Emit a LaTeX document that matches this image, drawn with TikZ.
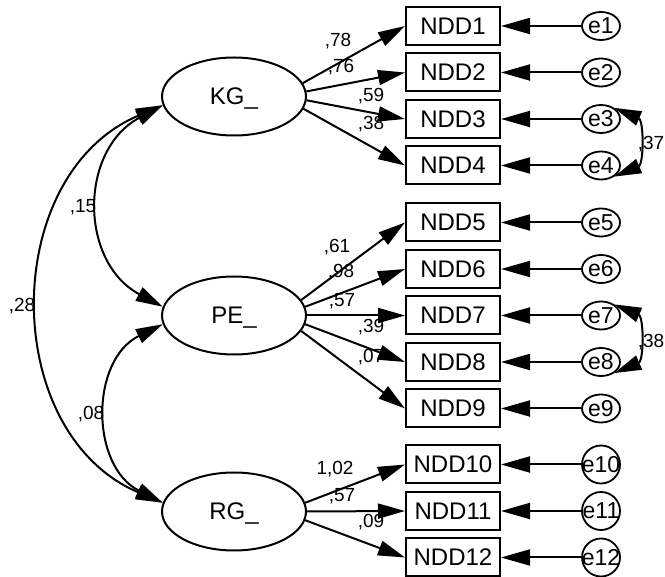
\documentclass[tikz,border=0pt]{standalone}
\usepackage{fontspec}
\setmainfont{Liberation Sans}
\usetikzlibrary{arrows.meta,shapes.geometric}
\newcommand\ezero[1]{\makebox[0pt]{#1}}
\begin{document}
\begin{tikzpicture}[x=1pt,y=-1pt,
  lat/.style={draw, ellipse, minimum width=144pt, minimum height=78pt, inner sep=0pt, text depth=0pt, line width=2pt, font=\fontsize{24}{24}\selectfont},
  obs/.style={draw, rectangle, minimum width=94pt, minimum height=38pt, inner sep=0pt, line width=2pt, font=\fontsize{24}{24}\selectfont},
  err/.style={draw, ellipse, minimum width=38pt, minimum height=28pt, inner sep=0pt, line width=1.8pt, font=\fontsize{23}{23}\selectfont},
  errb/.style={err, minimum height=38pt},
  ld/.style={line width=2pt, -{Triangle[length=27pt,width=15pt]}},
  ldx/.style={line width=2pt, -{Triangle[length=29pt,width=16pt]}},
  cv/.style={line width=2pt, {Triangle[length=27pt,width=15pt]}-{Triangle[length=27pt,width=15pt]}},
  lbl/.style={anchor=base, inner sep=0pt, font=\fontsize{19}{19}\selectfont},
]
\useasboundingbox (0,0) rectangle (665,577);

% latent variables
\node[lat] (KG) at (234,96.5) {KG\_};
\node[lat] (PE) at (234,315.5) {PE\_};
\node[lat] (RG) at (234,511.5) {RG\_};

% observed variables
\node[obs] (N1) at (453,26) {NDD1};
\node[obs] (N2) at (453,72.5) {NDD2};
\node[obs] (N3) at (453,119) {NDD3};
\node[obs] (N4) at (453,165.5) {NDD4};
\node[obs] (N5) at (453,222.5) {NDD5};
\node[obs] (N6) at (453,269) {NDD6};
\node[obs] (N7) at (453,315.5) {NDD7};
\node[obs] (N8) at (453,362) {NDD8};
\node[obs] (N9) at (453,408.5) {NDD9};
\node[obs] (N10) at (453,464.5) {NDD10};
\node[obs] (N11) at (453,511) {NDD11};
\node[obs] (N12) at (453,557.5) {NDD12};

% errors
\node[err] (e1) at (601,26) {\ezero{e1}};
\node[err] (e2) at (601,72.5) {\ezero{e2}};
\node[err] (e3) at (601,119) {\ezero{e3}};
\node[err] (e4) at (601,165.5) {\ezero{e4}};
\node[err] (e5) at (601,222.5) {\ezero{e5}};
\node[err] (e6) at (601,269) {\ezero{e6}};
\node[err] (e7) at (601,315.5) {\ezero{e7}};
\node[err] (e8) at (601,362) {\ezero{e8}};
\node[err] (e9) at (601,408.5) {\ezero{e9}};
\node[errb] (e10) at (601,464.5) {\ezero{e10}};
\node[errb] (e11) at (601,511) {\ezero{e11}};
\node[errb] (e12) at (601,557.5) {\ezero{e12}};

% labels
\node[lbl] (l1) at (338,47) {,78};
\node[lbl] (l2) at (341,73) {,76};
\node[lbl] (l3) at (371,102) {,59};
\node[lbl] (l4) at (371,130) {,38};
\node[lbl] (l5) at (337,253) {,61};
\node[lbl] (l6) at (341,278) {,98};
\node[lbl] (l7) at (342,307) {,57};
\node[lbl] (l8) at (371,333) {,39};
\node[lbl] (l9) at (371,363) {,07};
\node[lbl] (l10) at (335,475) {1,02};
\node[lbl] (l11) at (342,502) {,57};
\node[lbl] (l12) at (371,528) {,09};
\node[lbl] (c1) at (83,213) {,15};
\node[lbl] (c2) at (22,312) {,28};
\node[lbl] (c3) at (91,420) {,08};
\node[lbl] (c4) at (651,150) {,37};
\node[lbl] (c5) at (651,348) {,38};

% loadings
\draw[ld] (KG.11) -- (N1.west);
\draw[ld] (KG.4) -- (N2.west);
\draw[ld] (KG.-3) -- (N3.west);
\draw[ld] (KG.-10) -- (N4.west);
\draw[ld] (PE.13) -- (N5.west);
\draw[ld] (PE.7) -- (N6.west);
\draw[ld] (PE.0) -- (N7.west);
\draw[ld] (PE.-7) -- (N8.west);
\draw[ld] (PE.-13) -- (N9.west);
\draw[ld] (RG.7) -- (N10.west);
\draw[ld] (RG.0) -- (N11.west);
\draw[ld] (RG.-7) -- (N12.west);

% error paths
\foreach \i in {1,...,12} {\draw[ldx] (e\i.west) -- (N\i.east);}

% covariances
\draw[cv] (KG.187) .. controls (79,150) and (79,262) .. (PE.173);
\draw[cv] (KG.187) .. controls (-1,175) and (-1,433) .. (RG.173);
\draw[cv] (PE.187) .. controls (90,360) and (90,466) .. (RG.173);
\draw[cv] (e3.40) .. controls (644,120.5) and (644,164) .. (e4.-40);
\draw[cv] (e7.40) .. controls (644,317) and (644,360.5) .. (e8.-40);
\end{tikzpicture}
\end{document}
